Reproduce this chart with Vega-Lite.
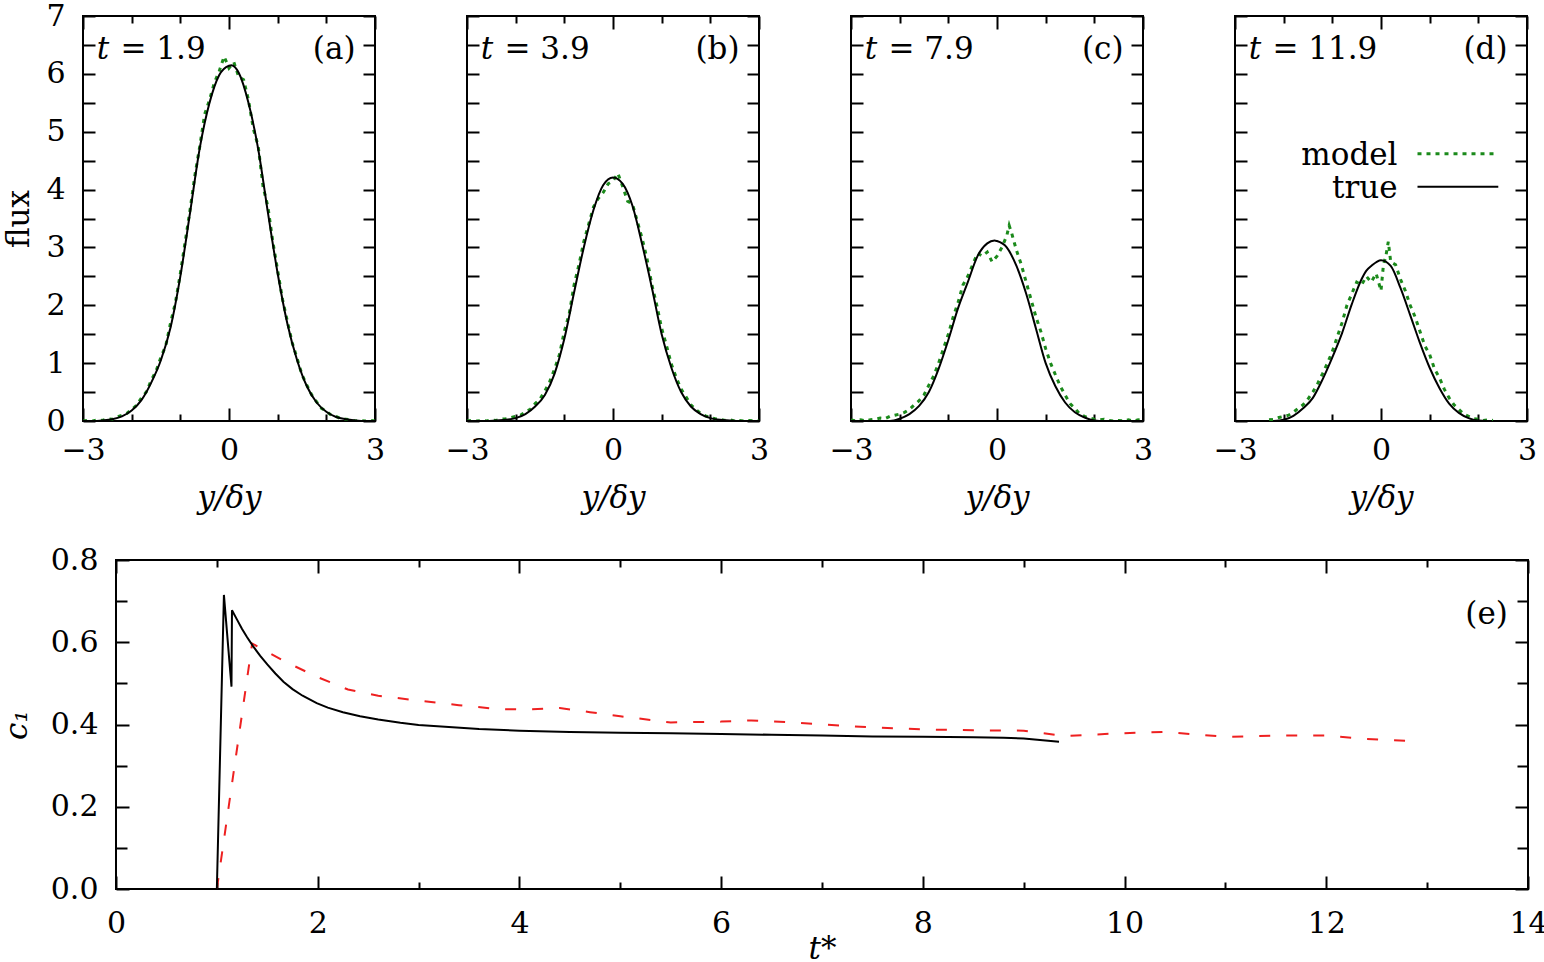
{
  "$schema": "https://vega.github.io/schema/vega-lite/v6.json",
  "padding": {"left": 0, "top": 0, "right": 0, "bottom": 0},
  "background": "white",
  "config": {
    "view": {"stroke": "black", "strokeWidth": 2},
    "axis": {"domain": false, "grid": false, "labelFont": "DejaVu Serif", "labelFontSize": 30, "titleFont": "DejaVu Serif", "titleFontSize": 31, "titleFontWeight": "normal", "labelColor": "black", "titleColor": "black", "tickColor": "black", "tickWidth": 2, "labelFlush": false, "labelOverlap": false},
    "text": {"font": "DejaVu Serif", "fontSize": 31, "color": "black"}
  },
  "datasets": {
    "panels": [
      {"panel": "a", "eq": "= 1.9", "tag": "(a)"},
      {"panel": "b", "eq": "= 3.9", "tag": "(b)"},
      {"panel": "c", "eq": "= 7.9", "tag": "(c)"},
      {"panel": "d", "eq": "= 11.9", "tag": "(d)"}
    ],
    "legend": [
      {"series": "model"},
      {"series": "true"}
    ],
    "truth": [
      {"panel":"a","x":-3,"flux":0},{"panel":"a","x":-2.8,"flux":0},{"panel":"a","x":-2.6,"flux":0.01},{"panel":"a","x":-2.4,"flux":0.03},{"panel":"a","x":-2.2,"flux":0.08},{"panel":"a","x":-2,"flux":0.18},{"panel":"a","x":-1.8,"flux":0.36},{"panel":"a","x":-1.6,"flux":0.66},{"panel":"a","x":-1.4,"flux":1.05},{"panel":"a","x":-1.2,"flux":1.62},{"panel":"a","x":-1,"flux":2.5},{"panel":"a","x":-0.8,"flux":3.6},{"panel":"a","x":-0.6,"flux":4.72},{"panel":"a","x":-0.4,"flux":5.5},{"panel":"a","x":-0.2,"flux":5.98},{"panel":"a","x":0,"flux":6.14},{"panel":"a","x":0.05,"flux":6.15},{"panel":"a","x":0.2,"flux":6.02},{"panel":"a","x":0.4,"flux":5.5},{"panel":"a","x":0.6,"flux":4.7},{"panel":"a","x":0.8,"flux":3.6},{"panel":"a","x":1,"flux":2.55},{"panel":"a","x":1.2,"flux":1.68},{"panel":"a","x":1.4,"flux":1.05},{"panel":"a","x":1.6,"flux":0.6},{"panel":"a","x":1.8,"flux":0.32},{"panel":"a","x":2,"flux":0.16},{"panel":"a","x":2.2,"flux":0.07},{"panel":"a","x":2.4,"flux":0.03},{"panel":"a","x":2.6,"flux":0.01},{"panel":"a","x":2.8,"flux":0},{"panel":"a","x":3,"flux":0},
      {"panel":"b","x":-3,"flux":0},{"panel":"b","x":-2.6,"flux":0},{"panel":"b","x":-2.4,"flux":0.01},{"panel":"b","x":-2.2,"flux":0.02},{"panel":"b","x":-2,"flux":0.05},{"panel":"b","x":-1.8,"flux":0.12},{"panel":"b","x":-1.6,"flux":0.25},{"panel":"b","x":-1.4,"flux":0.45},{"panel":"b","x":-1.2,"flux":0.82},{"panel":"b","x":-1,"flux":1.42},{"panel":"b","x":-0.8,"flux":2.22},{"panel":"b","x":-0.6,"flux":3.0},{"panel":"b","x":-0.4,"flux":3.65},{"panel":"b","x":-0.2,"flux":4.08},{"panel":"b","x":0,"flux":4.21},{"panel":"b","x":0.2,"flux":4.1},{"panel":"b","x":0.4,"flux":3.72},{"panel":"b","x":0.6,"flux":3.05},{"panel":"b","x":0.8,"flux":2.3},{"panel":"b","x":1,"flux":1.5},{"panel":"b","x":1.2,"flux":0.92},{"panel":"b","x":1.4,"flux":0.5},{"panel":"b","x":1.6,"flux":0.25},{"panel":"b","x":1.8,"flux":0.12},{"panel":"b","x":2,"flux":0.05},{"panel":"b","x":2.2,"flux":0.02},{"panel":"b","x":2.4,"flux":0.01},{"panel":"b","x":2.6,"flux":0},{"panel":"b","x":3,"flux":0},
      {"panel":"c","x":-3,"flux":0},{"panel":"c","x":-2.2,"flux":0},{"panel":"c","x":-2,"flux":0.04},{"panel":"c","x":-1.8,"flux":0.12},{"panel":"c","x":-1.6,"flux":0.26},{"panel":"c","x":-1.4,"flux":0.5},{"panel":"c","x":-1.2,"flux":0.9},{"panel":"c","x":-1,"flux":1.4},{"panel":"c","x":-0.8,"flux":1.95},{"panel":"c","x":-0.6,"flux":2.4},{"panel":"c","x":-0.4,"flux":2.85},{"panel":"c","x":-0.2,"flux":3.07},{"panel":"c","x":-0.05,"flux":3.12},{"panel":"c","x":0,"flux":3.11},{"panel":"c","x":0.2,"flux":3.0},{"panel":"c","x":0.4,"flux":2.68},{"panel":"c","x":0.6,"flux":2.2},{"panel":"c","x":0.8,"flux":1.6},{"panel":"c","x":1,"flux":1.0},{"panel":"c","x":1.2,"flux":0.6},{"panel":"c","x":1.4,"flux":0.32},{"panel":"c","x":1.6,"flux":0.15},{"panel":"c","x":1.8,"flux":0.06},{"panel":"c","x":2,"flux":0.01},{"panel":"c","x":2.2,"flux":0},{"panel":"c","x":3,"flux":0},
      {"panel":"d","x":-2.2,"flux":0},{"panel":"d","x":-2,"flux":0.02},{"panel":"d","x":-1.8,"flux":0.09},{"panel":"d","x":-1.6,"flux":0.22},{"panel":"d","x":-1.4,"flux":0.4},{"panel":"d","x":-1.2,"flux":0.72},{"panel":"d","x":-1,"flux":1.1},{"panel":"d","x":-0.8,"flux":1.52},{"panel":"d","x":-0.6,"flux":2.02},{"panel":"d","x":-0.4,"flux":2.45},{"panel":"d","x":-0.3,"flux":2.6},{"panel":"d","x":-0.2,"flux":2.68},{"panel":"d","x":0,"flux":2.78},{"panel":"d","x":0.2,"flux":2.68},{"panel":"d","x":0.4,"flux":2.3},{"panel":"d","x":0.6,"flux":1.83},{"panel":"d","x":0.8,"flux":1.35},{"panel":"d","x":1,"flux":0.92},{"panel":"d","x":1.2,"flux":0.57},{"panel":"d","x":1.4,"flux":0.3},{"panel":"d","x":1.6,"flux":0.14},{"panel":"d","x":1.8,"flux":0.05},{"panel":"d","x":2,"flux":0.01},{"panel":"d","x":2.2,"flux":0}
    ],
    "model": [
      {"panel":"a","x":-3,"flux":0},{"panel":"a","x":-2.9,"flux":0.01},{"panel":"a","x":-2.8,"flux":0},{"panel":"a","x":-2.7,"flux":0.02},{"panel":"a","x":-2.6,"flux":0.01},{"panel":"a","x":-2.5,"flux":0.04},{"panel":"a","x":-2.4,"flux":0.03},{"panel":"a","x":-2.3,"flux":0.07},{"panel":"a","x":-2.2,"flux":0.1},{"panel":"a","x":-2.1,"flux":0.13},{"panel":"a","x":-2,"flux":0.2},{"panel":"a","x":-1.9,"flux":0.27},{"panel":"a","x":-1.8,"flux":0.4},{"panel":"a","x":-1.7,"flux":0.5},{"panel":"a","x":-1.6,"flux":0.7},{"panel":"a","x":-1.5,"flux":0.86},{"panel":"a","x":-1.4,"flux":1.1},{"panel":"a","x":-1.3,"flux":1.3},{"panel":"a","x":-1.2,"flux":1.7},{"panel":"a","x":-1.1,"flux":2.05},{"panel":"a","x":-1,"flux":2.55},{"panel":"a","x":-0.9,"flux":3.1},{"panel":"a","x":-0.8,"flux":3.65},{"panel":"a","x":-0.7,"flux":4.25},{"panel":"a","x":-0.6,"flux":4.75},{"panel":"a","x":-0.5,"flux":5.3},{"panel":"a","x":-0.4,"flux":5.55},{"panel":"a","x":-0.3,"flux":5.85},{"panel":"a","x":-0.2,"flux":6.05},{"panel":"a","x":-0.1,"flux":6.3},{"panel":"a","x":0,"flux":6.1},{"panel":"a","x":0.1,"flux":6.2},{"panel":"a","x":0.2,"flux":5.95},{"panel":"a","x":0.3,"flux":5.9},{"panel":"a","x":0.4,"flux":5.55},{"panel":"a","x":0.5,"flux":5.05},{"panel":"a","x":0.6,"flux":4.75},{"panel":"a","x":0.7,"flux":4.05},{"panel":"a","x":0.8,"flux":3.7},{"panel":"a","x":0.9,"flux":3.1},{"panel":"a","x":1,"flux":2.6},{"panel":"a","x":1.1,"flux":2.1},{"panel":"a","x":1.2,"flux":1.72},{"panel":"a","x":1.3,"flux":1.35},{"panel":"a","x":1.4,"flux":1.08},{"panel":"a","x":1.5,"flux":0.8},{"panel":"a","x":1.6,"flux":0.62},{"panel":"a","x":1.7,"flux":0.45},{"panel":"a","x":1.8,"flux":0.33},{"panel":"a","x":1.9,"flux":0.22},{"panel":"a","x":2,"flux":0.17},{"panel":"a","x":2.1,"flux":0.1},{"panel":"a","x":2.2,"flux":0.08},{"panel":"a","x":2.3,"flux":0.04},{"panel":"a","x":2.4,"flux":0.03},{"panel":"a","x":2.5,"flux":0.02},{"panel":"a","x":2.6,"flux":0},{"panel":"a","x":2.7,"flux":0.01},{"panel":"a","x":2.8,"flux":0},{"panel":"a","x":2.9,"flux":0.01},{"panel":"a","x":3,"flux":0},
      {"panel":"b","x":-3,"flux":0},{"panel":"b","x":-2.9,"flux":0.01},{"panel":"b","x":-2.8,"flux":0},{"panel":"b","x":-2.7,"flux":0.01},{"panel":"b","x":-2.6,"flux":0},{"panel":"b","x":-2.5,"flux":0.02},{"panel":"b","x":-2.4,"flux":0.01},{"panel":"b","x":-2.3,"flux":0.03},{"panel":"b","x":-2.2,"flux":0.04},{"panel":"b","x":-2.1,"flux":0.06},{"panel":"b","x":-2,"flux":0.08},{"panel":"b","x":-1.9,"flux":0.1},{"panel":"b","x":-1.8,"flux":0.16},{"panel":"b","x":-1.7,"flux":0.2},{"panel":"b","x":-1.6,"flux":0.3},{"panel":"b","x":-1.5,"flux":0.38},{"panel":"b","x":-1.4,"flux":0.52},{"panel":"b","x":-1.3,"flux":0.68},{"panel":"b","x":-1.2,"flux":0.9},{"panel":"b","x":-1.1,"flux":1.15},{"panel":"b","x":-1,"flux":1.55},{"panel":"b","x":-0.9,"flux":1.85},{"panel":"b","x":-0.8,"flux":2.35},{"panel":"b","x":-0.7,"flux":2.7},{"panel":"b","x":-0.6,"flux":3.1},{"panel":"b","x":-0.5,"flux":3.4},{"panel":"b","x":-0.4,"flux":3.7},{"panel":"b","x":-0.3,"flux":3.85},{"panel":"b","x":-0.2,"flux":3.95},{"panel":"b","x":-0.1,"flux":4.1},{"panel":"b","x":0,"flux":4.15},{"panel":"b","x":0.1,"flux":4.28},{"panel":"b","x":0.2,"flux":4.05},{"panel":"b","x":0.3,"flux":3.8},{"panel":"b","x":0.4,"flux":3.75},{"panel":"b","x":0.5,"flux":3.45},{"panel":"b","x":0.6,"flux":3.15},{"panel":"b","x":0.7,"flux":2.8},{"panel":"b","x":0.8,"flux":2.35},{"panel":"b","x":0.9,"flux":2.0},{"panel":"b","x":1,"flux":1.6},{"panel":"b","x":1.1,"flux":1.3},{"panel":"b","x":1.2,"flux":0.98},{"panel":"b","x":1.3,"flux":0.75},{"panel":"b","x":1.4,"flux":0.55},{"panel":"b","x":1.5,"flux":0.42},{"panel":"b","x":1.6,"flux":0.28},{"panel":"b","x":1.7,"flux":0.2},{"panel":"b","x":1.8,"flux":0.13},{"panel":"b","x":1.9,"flux":0.09},{"panel":"b","x":2,"flux":0.06},{"panel":"b","x":2.1,"flux":0.04},{"panel":"b","x":2.2,"flux":0.03},{"panel":"b","x":2.3,"flux":0.01},{"panel":"b","x":2.4,"flux":0.02},{"panel":"b","x":2.5,"flux":0},{"panel":"b","x":2.6,"flux":0.01},{"panel":"b","x":2.7,"flux":0},{"panel":"b","x":2.8,"flux":0.01},{"panel":"b","x":2.9,"flux":0},{"panel":"b","x":3,"flux":0},
      {"panel":"c","x":-3,"flux":0.02},{"panel":"c","x":-2.9,"flux":0},{"panel":"c","x":-2.8,"flux":0.02},{"panel":"c","x":-2.7,"flux":0},{"panel":"c","x":-2.6,"flux":0.02},{"panel":"c","x":-2.5,"flux":0.03},{"panel":"c","x":-2.4,"flux":0.05},{"panel":"c","x":-2.3,"flux":0.04},{"panel":"c","x":-2.2,"flux":0.08},{"panel":"c","x":-2.1,"flux":0.1},{"panel":"c","x":-2,"flux":0.12},{"panel":"c","x":-1.9,"flux":0.15},{"panel":"c","x":-1.8,"flux":0.2},{"panel":"c","x":-1.7,"flux":0.28},{"panel":"c","x":-1.6,"flux":0.35},{"panel":"c","x":-1.5,"flux":0.45},{"panel":"c","x":-1.4,"flux":0.62},{"panel":"c","x":-1.3,"flux":0.78},{"panel":"c","x":-1.2,"flux":1.0},{"panel":"c","x":-1.1,"flux":1.25},{"panel":"c","x":-1,"flux":1.5},{"panel":"c","x":-0.9,"flux":1.8},{"panel":"c","x":-0.8,"flux":2.05},{"panel":"c","x":-0.7,"flux":2.35},{"panel":"c","x":-0.6,"flux":2.5},{"panel":"c","x":-0.5,"flux":2.7},{"panel":"c","x":-0.4,"flux":2.9},{"panel":"c","x":-0.3,"flux":2.85},{"panel":"c","x":-0.2,"flux":2.92},{"panel":"c","x":-0.1,"flux":2.75},{"panel":"c","x":0,"flux":2.85},{"panel":"c","x":0.1,"flux":3.0},{"panel":"c","x":0.2,"flux":3.2},{"panel":"c","x":0.25,"flux":3.38},{"panel":"c","x":0.3,"flux":3.25},{"panel":"c","x":0.4,"flux":2.95},{"panel":"c","x":0.5,"flux":2.7},{"panel":"c","x":0.6,"flux":2.4},{"panel":"c","x":0.7,"flux":2.1},{"panel":"c","x":0.8,"flux":1.8},{"panel":"c","x":0.9,"flux":1.55},{"panel":"c","x":1,"flux":1.25},{"panel":"c","x":1.1,"flux":1.0},{"panel":"c","x":1.2,"flux":0.8},{"panel":"c","x":1.3,"flux":0.6},{"panel":"c","x":1.4,"flux":0.45},{"panel":"c","x":1.5,"flux":0.3},{"panel":"c","x":1.6,"flux":0.22},{"panel":"c","x":1.7,"flux":0.12},{"panel":"c","x":1.8,"flux":0.08},{"panel":"c","x":1.9,"flux":0.05},{"panel":"c","x":2,"flux":0.03},{"panel":"c","x":2.1,"flux":0.02},{"panel":"c","x":2.2,"flux":0.03},{"panel":"c","x":2.3,"flux":0.01},{"panel":"c","x":2.4,"flux":0},{"panel":"c","x":2.5,"flux":0.01},{"panel":"c","x":2.6,"flux":0},{"panel":"c","x":2.7,"flux":0.02},{"panel":"c","x":2.8,"flux":0},{"panel":"c","x":2.9,"flux":0.02},{"panel":"c","x":3,"flux":0.01},
      {"panel":"d","x":-2.3,"flux":0.02},{"panel":"d","x":-2.2,"flux":0.03},{"panel":"d","x":-2.1,"flux":0.06},{"panel":"d","x":-2,"flux":0.08},{"panel":"d","x":-1.9,"flux":0.1},{"panel":"d","x":-1.8,"flux":0.15},{"panel":"d","x":-1.7,"flux":0.22},{"panel":"d","x":-1.6,"flux":0.28},{"panel":"d","x":-1.5,"flux":0.38},{"panel":"d","x":-1.4,"flux":0.5},{"panel":"d","x":-1.3,"flux":0.65},{"panel":"d","x":-1.2,"flux":0.82},{"panel":"d","x":-1.1,"flux":1.0},{"panel":"d","x":-1,"flux":1.2},{"panel":"d","x":-0.9,"flux":1.45},{"panel":"d","x":-0.8,"flux":1.7},{"panel":"d","x":-0.7,"flux":2.0},{"panel":"d","x":-0.6,"flux":2.2},{"panel":"d","x":-0.5,"flux":2.4},{"panel":"d","x":-0.4,"flux":2.35},{"panel":"d","x":-0.3,"flux":2.5},{"panel":"d","x":-0.2,"flux":2.4},{"panel":"d","x":-0.1,"flux":2.55},{"panel":"d","x":0,"flux":2.25},{"panel":"d","x":0.05,"flux":2.7},{"panel":"d","x":0.1,"flux":2.85},{"panel":"d","x":0.15,"flux":3.1},{"panel":"d","x":0.2,"flux":2.75},{"panel":"d","x":0.3,"flux":2.7},{"panel":"d","x":0.4,"flux":2.45},{"panel":"d","x":0.5,"flux":2.25},{"panel":"d","x":0.6,"flux":2.0},{"panel":"d","x":0.7,"flux":1.8},{"panel":"d","x":0.8,"flux":1.55},{"panel":"d","x":0.9,"flux":1.3},{"panel":"d","x":1,"flux":1.15},{"panel":"d","x":1.1,"flux":0.9},{"panel":"d","x":1.2,"flux":0.75},{"panel":"d","x":1.3,"flux":0.55},{"panel":"d","x":1.4,"flux":0.4},{"panel":"d","x":1.5,"flux":0.28},{"panel":"d","x":1.6,"flux":0.2},{"panel":"d","x":1.7,"flux":0.12},{"panel":"d","x":1.8,"flux":0.08},{"panel":"d","x":1.9,"flux":0.04},{"panel":"d","x":2,"flux":0.03},{"panel":"d","x":2.1,"flux":0.01},{"panel":"d","x":2.2,"flux":0.02},{"panel":"d","x":2.3,"flux":0.01}
    ],
    "c1": [
      {"series":"model","t":1.0,"c1":0.0},{"series":"model","t":1.35,"c1":0.597},{"series":"model","t":1.66,"c1":0.555},{"series":"model","t":2.0,"c1":0.515},{"series":"model","t":2.3,"c1":0.485},{"series":"model","t":2.6,"c1":0.47},{"series":"model","t":3.0,"c1":0.458},{"series":"model","t":3.4,"c1":0.447},{"series":"model","t":3.81,"c1":0.437},{"series":"model","t":4.1,"c1":0.437},{"series":"model","t":4.4,"c1":0.44},{"series":"model","t":4.7,"c1":0.43},{"series":"model","t":5.0,"c1":0.42},{"series":"model","t":5.5,"c1":0.405},{"series":"model","t":6.0,"c1":0.407},{"series":"model","t":6.3,"c1":0.41},{"series":"model","t":6.7,"c1":0.405},{"series":"model","t":7.0,"c1":0.4},{"series":"model","t":7.5,"c1":0.393},{"series":"model","t":8.0,"c1":0.388},{"series":"model","t":8.5,"c1":0.386},{"series":"model","t":9.0,"c1":0.385},{"series":"model","t":9.4,"c1":0.372},{"series":"model","t":9.9,"c1":0.378},{"series":"model","t":10.4,"c1":0.382},{"series":"model","t":11.0,"c1":0.37},{"series":"model","t":11.5,"c1":0.373},{"series":"model","t":12.0,"c1":0.373},{"series":"model","t":12.4,"c1":0.365},{"series":"model","t":12.85,"c1":0.36},
      {"series":"true","t":1.0,"c1":0.0},{"series":"true","t":1.07,"c1":0.715},{"series":"true","t":1.145,"c1":0.492},{"series":"true","t":1.15,"c1":0.678},{"series":"true","t":1.2,"c1":0.655},{"series":"true","t":1.25,"c1":0.632},{"series":"true","t":1.3,"c1":0.612},{"series":"true","t":1.36,"c1":0.59},{"series":"true","t":1.43,"c1":0.567},{"series":"true","t":1.5,"c1":0.546},{"series":"true","t":1.58,"c1":0.524},{"series":"true","t":1.66,"c1":0.504},{"series":"true","t":1.75,"c1":0.486},{"series":"true","t":1.85,"c1":0.47},{"series":"true","t":1.99,"c1":0.452},{"series":"true","t":2.1,"c1":0.441},{"series":"true","t":2.25,"c1":0.43},{"series":"true","t":2.42,"c1":0.42},{"series":"true","t":2.6,"c1":0.412},{"series":"true","t":2.82,"c1":0.404},{"series":"true","t":3.0,"c1":0.399},{"series":"true","t":3.3,"c1":0.394},{"series":"true","t":3.6,"c1":0.389},{"series":"true","t":4.0,"c1":0.385},{"series":"true","t":4.5,"c1":0.382},{"series":"true","t":5.0,"c1":0.38},{"series":"true","t":5.5,"c1":0.379},{"series":"true","t":6.0,"c1":0.377},{"series":"true","t":6.5,"c1":0.375},{"series":"true","t":7.0,"c1":0.373},{"series":"true","t":7.5,"c1":0.371},{"series":"true","t":8.0,"c1":0.37},{"series":"true","t":8.5,"c1":0.369},{"series":"true","t":8.8,"c1":0.368},{"series":"true","t":9.0,"c1":0.366},{"series":"true","t":9.35,"c1":0.358}
    ]
  },
  "vconcat": [
    {
      "bounds": "flush",
      "spacing": 92,
      "hconcat": [
        {
          "width": 292, "height": 405,
          "resolve": {"axis": {"x": "independent", "y": "independent"}},
          "layer": [
            {"data": {"name": "model"}, "transform": [{"filter": "datum.panel === 'a'"}],
             "mark": {"type": "line", "color": "#1b8a1b", "strokeWidth": 3, "strokeDash": [4, 5], "clip": true},
             "encoding": {
               "x": {"field": "x", "type": "quantitative", "scale": {"domain": [-3, 3], "nice": false, "zero": false},
                     "axis": {"orient": "top", "values": [-3,-2,-1,0,1,2,3], "labels": false, "title": null, "tickSize": {"condition": {"test": "abs(datum.value) % 3 === 0", "value": -13}, "value": -7}}},
               "y": {"field": "flux", "type": "quantitative", "scale": {"domain": [0, 7], "nice": false},
                     "axis": {"orient": "right", "values": [0,0.5,1,1.5,2,2.5,3,3.5,4,4.5,5,5.5,6,6.5,7], "labels": false, "title": null, "tickSize": -12}}
             }},
            {"data": {"name": "truth"}, "transform": [{"filter": "datum.panel === 'a'"}],
             "mark": {"type": "line", "color": "black", "strokeWidth": 2, "interpolate": "monotone", "clip": true},
             "encoding": {
               "x": {"field": "x", "type": "quantitative",
                     "axis": {"orient": "bottom", "values": [-3,-2,-1,0,1,2,3], "labelExpr": "abs(datum.value) % 3 === 0 ? datum.label : ''", "tickSize": {"condition": {"test": "abs(datum.value) % 3 === 0", "value": -13}, "value": -7}, "labelPadding": 27, "title": "y/δy", "titleFontStyle": "italic", "titlePadding": 12}},
               "y": {"field": "flux", "type": "quantitative",
                     "axis": {"orient": "left", "values": [0,0.5,1,1.5,2,2.5,3,3.5,4,4.5,5,5.5,6,6.5,7], "format": "~g", "labelExpr": "datum.value % 1 === 0 ? datum.label : ''", "tickSize": -12, "labelPadding": 30, "title": "flux", "titleX": -55, "titleBaseline": "alphabetic"}}
             }},
            {"data": {"name": "panels"}, "transform": [{"filter": "datum.panel === 'a'"}],
             "mark": {"type": "text", "text": "t", "fontStyle": "italic", "align": "left", "baseline": "alphabetic"},
             "encoding": {"x": {"datum": -2.72, "type": "quantitative", "axis": null}, "y": {"datum": 6.26, "type": "quantitative", "axis": null}}},
            {"data": {"name": "panels"}, "transform": [{"filter": "datum.panel === 'a'"}],
             "mark": {"type": "text", "align": "left", "baseline": "alphabetic"},
             "encoding": {"text": {"field": "eq"}, "x": {"datum": -2.23, "type": "quantitative", "axis": null}, "y": {"datum": 6.26, "type": "quantitative", "axis": null}}},
            {"data": {"name": "panels"}, "transform": [{"filter": "datum.panel === 'a'"}],
             "mark": {"type": "text", "align": "right", "baseline": "alphabetic"},
             "encoding": {"text": {"field": "tag"}, "x": {"datum": 2.6, "type": "quantitative", "axis": null}, "y": {"datum": 6.26, "type": "quantitative", "axis": null}}}
          ]
        },
        {
          "width": 292, "height": 405,
          "resolve": {"axis": {"x": "independent", "y": "independent"}},
          "layer": [
            {"data": {"name": "model"}, "transform": [{"filter": "datum.panel === 'b'"}],
             "mark": {"type": "line", "color": "#1b8a1b", "strokeWidth": 3, "strokeDash": [4, 5], "clip": true},
             "encoding": {
               "x": {"field": "x", "type": "quantitative", "scale": {"domain": [-3, 3], "nice": false, "zero": false},
                     "axis": {"orient": "top", "values": [-3,-2,-1,0,1,2,3], "labels": false, "title": null, "tickSize": {"condition": {"test": "abs(datum.value) % 3 === 0", "value": -13}, "value": -7}}},
               "y": {"field": "flux", "type": "quantitative", "scale": {"domain": [0, 7], "nice": false},
                     "axis": {"orient": "right", "values": [0,0.5,1,1.5,2,2.5,3,3.5,4,4.5,5,5.5,6,6.5,7], "labels": false, "title": null, "tickSize": -12}}
             }},
            {"data": {"name": "truth"}, "transform": [{"filter": "datum.panel === 'b'"}],
             "mark": {"type": "line", "color": "black", "strokeWidth": 2, "interpolate": "monotone", "clip": true},
             "encoding": {
               "x": {"field": "x", "type": "quantitative",
                     "axis": {"orient": "bottom", "values": [-3,-2,-1,0,1,2,3], "labelExpr": "abs(datum.value) % 3 === 0 ? datum.label : ''", "tickSize": {"condition": {"test": "abs(datum.value) % 3 === 0", "value": -13}, "value": -7}, "labelPadding": 27, "title": "y/δy", "titleFontStyle": "italic", "titlePadding": 12}},
               "y": {"field": "flux", "type": "quantitative",
                     "axis": {"orient": "left", "values": [0,0.5,1,1.5,2,2.5,3,3.5,4,4.5,5,5.5,6,6.5,7], "labels": false, "tickSize": -12, "title": null}}
             }},
            {"data": {"name": "panels"}, "transform": [{"filter": "datum.panel === 'b'"}],
             "mark": {"type": "text", "text": "t", "fontStyle": "italic", "align": "left", "baseline": "alphabetic"},
             "encoding": {"x": {"datum": -2.72, "type": "quantitative", "axis": null}, "y": {"datum": 6.26, "type": "quantitative", "axis": null}}},
            {"data": {"name": "panels"}, "transform": [{"filter": "datum.panel === 'b'"}],
             "mark": {"type": "text", "align": "left", "baseline": "alphabetic"},
             "encoding": {"text": {"field": "eq"}, "x": {"datum": -2.23, "type": "quantitative", "axis": null}, "y": {"datum": 6.26, "type": "quantitative", "axis": null}}},
            {"data": {"name": "panels"}, "transform": [{"filter": "datum.panel === 'b'"}],
             "mark": {"type": "text", "align": "right", "baseline": "alphabetic"},
             "encoding": {"text": {"field": "tag"}, "x": {"datum": 2.6, "type": "quantitative", "axis": null}, "y": {"datum": 6.26, "type": "quantitative", "axis": null}}}
          ]
        },
        {
          "width": 292, "height": 405,
          "resolve": {"axis": {"x": "independent", "y": "independent"}},
          "layer": [
            {"data": {"name": "model"}, "transform": [{"filter": "datum.panel === 'c'"}],
             "mark": {"type": "line", "color": "#1b8a1b", "strokeWidth": 3, "strokeDash": [4, 5], "clip": true},
             "encoding": {
               "x": {"field": "x", "type": "quantitative", "scale": {"domain": [-3, 3], "nice": false, "zero": false},
                     "axis": {"orient": "top", "values": [-3,-2,-1,0,1,2,3], "labels": false, "title": null, "tickSize": {"condition": {"test": "abs(datum.value) % 3 === 0", "value": -13}, "value": -7}}},
               "y": {"field": "flux", "type": "quantitative", "scale": {"domain": [0, 7], "nice": false},
                     "axis": {"orient": "right", "values": [0,0.5,1,1.5,2,2.5,3,3.5,4,4.5,5,5.5,6,6.5,7], "labels": false, "title": null, "tickSize": -12}}
             }},
            {"data": {"name": "truth"}, "transform": [{"filter": "datum.panel === 'c'"}],
             "mark": {"type": "line", "color": "black", "strokeWidth": 2, "interpolate": "monotone", "clip": true},
             "encoding": {
               "x": {"field": "x", "type": "quantitative",
                     "axis": {"orient": "bottom", "values": [-3,-2,-1,0,1,2,3], "labelExpr": "abs(datum.value) % 3 === 0 ? datum.label : ''", "tickSize": {"condition": {"test": "abs(datum.value) % 3 === 0", "value": -13}, "value": -7}, "labelPadding": 27, "title": "y/δy", "titleFontStyle": "italic", "titlePadding": 12}},
               "y": {"field": "flux", "type": "quantitative",
                     "axis": {"orient": "left", "values": [0,0.5,1,1.5,2,2.5,3,3.5,4,4.5,5,5.5,6,6.5,7], "labels": false, "tickSize": -12, "title": null}}
             }},
            {"data": {"name": "panels"}, "transform": [{"filter": "datum.panel === 'c'"}],
             "mark": {"type": "text", "text": "t", "fontStyle": "italic", "align": "left", "baseline": "alphabetic"},
             "encoding": {"x": {"datum": -2.72, "type": "quantitative", "axis": null}, "y": {"datum": 6.26, "type": "quantitative", "axis": null}}},
            {"data": {"name": "panels"}, "transform": [{"filter": "datum.panel === 'c'"}],
             "mark": {"type": "text", "align": "left", "baseline": "alphabetic"},
             "encoding": {"text": {"field": "eq"}, "x": {"datum": -2.23, "type": "quantitative", "axis": null}, "y": {"datum": 6.26, "type": "quantitative", "axis": null}}},
            {"data": {"name": "panels"}, "transform": [{"filter": "datum.panel === 'c'"}],
             "mark": {"type": "text", "align": "right", "baseline": "alphabetic"},
             "encoding": {"text": {"field": "tag"}, "x": {"datum": 2.6, "type": "quantitative", "axis": null}, "y": {"datum": 6.26, "type": "quantitative", "axis": null}}}
          ]
        },
        {
          "width": 292, "height": 405,
          "resolve": {"axis": {"x": "independent", "y": "independent"}},
          "layer": [
            {"data": {"name": "model"}, "transform": [{"filter": "datum.panel === 'd'"}],
             "mark": {"type": "line", "color": "#1b8a1b", "strokeWidth": 3, "strokeDash": [4, 5], "clip": true},
             "encoding": {
               "x": {"field": "x", "type": "quantitative", "scale": {"domain": [-3, 3], "nice": false, "zero": false},
                     "axis": {"orient": "top", "values": [-3,-2,-1,0,1,2,3], "labels": false, "title": null, "tickSize": {"condition": {"test": "abs(datum.value) % 3 === 0", "value": -13}, "value": -7}}},
               "y": {"field": "flux", "type": "quantitative", "scale": {"domain": [0, 7], "nice": false},
                     "axis": {"orient": "right", "values": [0,0.5,1,1.5,2,2.5,3,3.5,4,4.5,5,5.5,6,6.5,7], "labels": false, "title": null, "tickSize": -12}}
             }},
            {"data": {"name": "truth"}, "transform": [{"filter": "datum.panel === 'd'"}],
             "mark": {"type": "line", "color": "black", "strokeWidth": 2, "interpolate": "monotone", "clip": true},
             "encoding": {
               "x": {"field": "x", "type": "quantitative",
                     "axis": {"orient": "bottom", "values": [-3,-2,-1,0,1,2,3], "labelExpr": "abs(datum.value) % 3 === 0 ? datum.label : ''", "tickSize": {"condition": {"test": "abs(datum.value) % 3 === 0", "value": -13}, "value": -7}, "labelPadding": 27, "title": "y/δy", "titleFontStyle": "italic", "titlePadding": 12}},
               "y": {"field": "flux", "type": "quantitative",
                     "axis": {"orient": "left", "values": [0,0.5,1,1.5,2,2.5,3,3.5,4,4.5,5,5.5,6,6.5,7], "labels": false, "tickSize": -12, "title": null}}
             }},
            {"data": {"name": "panels"}, "transform": [{"filter": "datum.panel === 'd'"}],
             "mark": {"type": "text", "text": "t", "fontStyle": "italic", "align": "left", "baseline": "alphabetic"},
             "encoding": {"x": {"datum": -2.72, "type": "quantitative", "axis": null}, "y": {"datum": 6.26, "type": "quantitative", "axis": null}}},
            {"data": {"name": "panels"}, "transform": [{"filter": "datum.panel === 'd'"}],
             "mark": {"type": "text", "align": "left", "baseline": "alphabetic"},
             "encoding": {"text": {"field": "eq"}, "x": {"datum": -2.23, "type": "quantitative", "axis": null}, "y": {"datum": 6.26, "type": "quantitative", "axis": null}}},
            {"data": {"name": "panels"}, "transform": [{"filter": "datum.panel === 'd'"}],
             "mark": {"type": "text", "align": "right", "baseline": "alphabetic"},
             "encoding": {"text": {"field": "tag"}, "x": {"datum": 2.6, "type": "quantitative", "axis": null}, "y": {"datum": 6.26, "type": "quantitative", "axis": null}}},
            {"data": {"name": "legend"}, "transform": [{"filter": "datum.series === 'model'"}],
             "mark": {"type": "text", "align": "right", "baseline": "alphabetic"},
             "encoding": {"text": {"field": "series"}, "x": {"datum": 0.34, "type": "quantitative", "axis": null}, "y": {"datum": 4.42, "type": "quantitative", "axis": null}}},
            {"data": {"name": "legend"}, "transform": [{"filter": "datum.series === 'true'"}],
             "mark": {"type": "text", "align": "right", "baseline": "alphabetic"},
             "encoding": {"text": {"field": "series"}, "x": {"datum": 0.34, "type": "quantitative", "axis": null}, "y": {"datum": 3.85, "type": "quantitative", "axis": null}}},
            {"data": {"name": "legend"}, "transform": [{"filter": "datum.series === 'model'"}],
             "mark": {"type": "rule", "color": "#1b8a1b", "strokeWidth": 3, "strokeDash": [4, 5]},
             "encoding": {"x": {"datum": 0.75, "type": "quantitative", "axis": null}, "x2": {"datum": 2.33}, "y": {"datum": 4.62, "type": "quantitative", "axis": null}}},
            {"data": {"name": "legend"}, "transform": [{"filter": "datum.series === 'true'"}],
             "mark": {"type": "rule", "color": "black", "strokeWidth": 2},
             "encoding": {"x": {"datum": 0.75, "type": "quantitative", "axis": null}, "x2": {"datum": 2.41}, "y": {"datum": 4.05, "type": "quantitative", "axis": null}}}
          ]
        }
      ]
    },
    {
      "bounds": "flush",
      "spacing": 0,
      "hconcat": [
        {
          "width": 33, "height": 329,
          "view": {"stroke": null},
          "data": {"values": [{}]},
          "mark": {"type": "point", "opacity": 0},
          "encoding": {}
        },
        {
          "width": 1412, "height": 329,
          "resolve": {"axis": {"x": "independent", "y": "independent"}},
          "layer": [
            {"data": {"name": "c1"}, "transform": [{"filter": "datum.series === 'model'"}],
             "mark": {"type": "line", "color": "#ee2020", "strokeWidth": 2, "strokeDash": [11, 16], "clip": true},
             "encoding": {
               "x": {"field": "t", "type": "quantitative", "scale": {"domain": [0, 14], "nice": false, "zero": false},
                     "axis": {"orient": "top", "values": [0,1,2,3,4,5,6,7,8,9,10,11,12,13,14], "labels": false, "title": null, "tickSize": {"condition": {"test": "datum.value % 2 === 0", "value": -13}, "value": -7}}},
               "y": {"field": "c1", "type": "quantitative", "scale": {"domain": [0, 0.8], "nice": false},
                     "axis": {"orient": "right", "values": [0,0.1,0.2,0.3,0.4,0.5,0.6,0.7,0.8], "labels": false, "title": null, "tickSize": {"condition": {"test": "round(datum.value * 10) % 2 === 0", "value": -13}, "value": -11}}}
             }},
            {"data": {"name": "c1"}, "transform": [{"filter": "datum.series === 'true'"}],
             "mark": {"type": "line", "color": "black", "strokeWidth": 2, "clip": true},
             "encoding": {
               "x": {"field": "t", "type": "quantitative",
                     "axis": {"orient": "bottom", "values": [0,1,2,3,4,5,6,7,8,9,10,11,12,13,14], "labelExpr": "datum.value % 2 === 0 ? datum.label : ''", "tickSize": {"condition": {"test": "datum.value % 2 === 0", "value": -13}, "value": -7}, "labelPadding": 32, "title": "t*", "titleFontStyle": "italic", "titlePadding": -10}},
               "y": {"field": "c1", "type": "quantitative",
                     "axis": {"orient": "left", "values": [0,0.1,0.2,0.3,0.4,0.5,0.6,0.7,0.8], "format": ".1f", "labelExpr": "round(datum.value * 10) % 2 === 0 ? datum.label : ''", "tickSize": {"condition": {"test": "round(datum.value * 10) % 2 === 0", "value": -13}, "value": -11}, "labelPadding": 31, "title": "c₁", "titleFontStyle": "italic", "titleX": -90, "titleBaseline": "alphabetic"}}
             }},
            {"data": {"values": [{"tag": "(e)"}]},
             "mark": {"type": "text", "align": "right", "baseline": "alphabetic"},
             "encoding": {"text": {"field": "tag"}, "x": {"datum": 13.8, "type": "quantitative", "axis": null}, "y": {"datum": 0.645, "type": "quantitative", "axis": null}}}
          ]
        }
      ]
    }
  ],
  "spacing": 30
}
